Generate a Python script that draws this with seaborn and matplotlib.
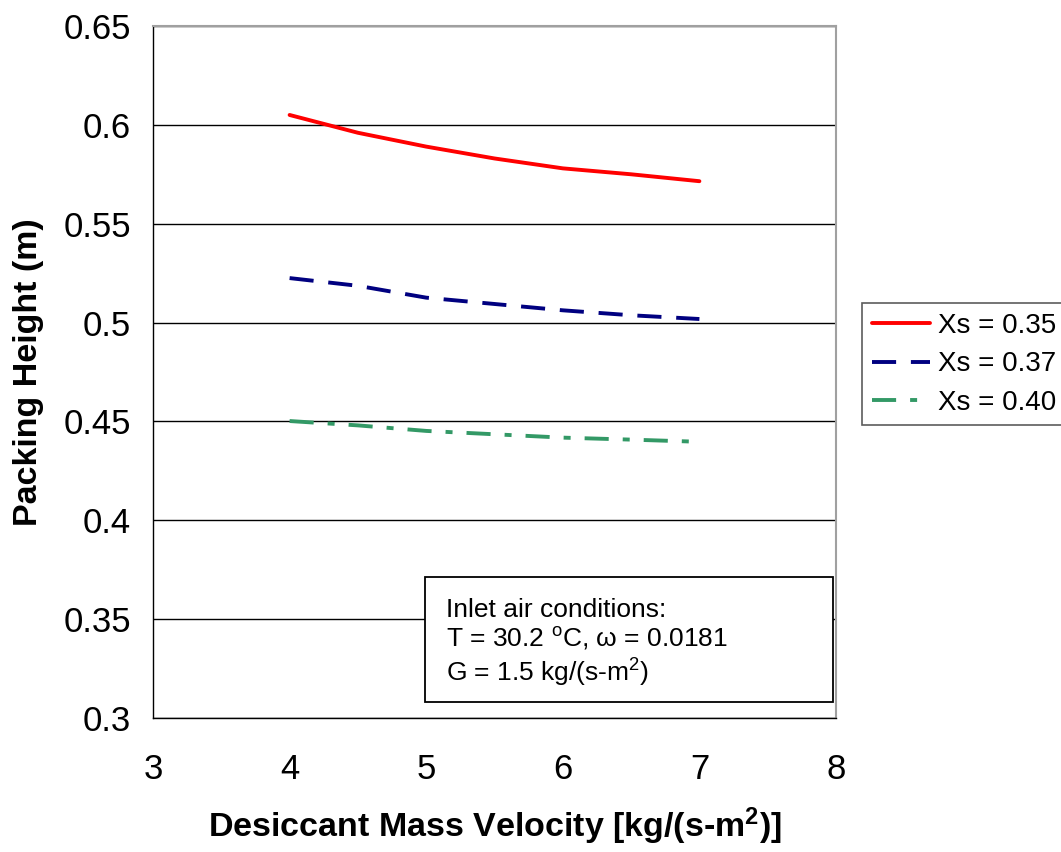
import matplotlib
matplotlib.use("Agg")
import matplotlib.pyplot as plt
import seaborn as sns
import pandas as pd
from matplotlib.patches import Rectangle

# ---- data ----
velocity = [4.0, 4.5, 5.0, 5.5, 6.0, 6.5, 7.0]
xs_035 = [0.605, 0.596, 0.589, 0.583, 0.578, 0.575, 0.5715]
xs_037 = [0.5225, 0.5186, 0.5126, 0.5094, 0.5062, 0.5037, 0.5018]
xs_040 = [0.4502, 0.4480, 0.4452, 0.4435, 0.4418, 0.4408, 0.4397]
series_labels = ["Xs = 0.35", "Xs = 0.37", "Xs = 0.40"]
x_ticks = [3, 4, 5, 6, 7, 8]
y_ticks = [0.3, 0.35, 0.4, 0.45, 0.5, 0.55, 0.6, 0.65]
y_tick_labels = ["0.3", "0.35", "0.4", "0.45", "0.5", "0.55", "0.6", "0.65"]

sns.set_style("white")
plt.rcParams["font.family"] = ["Liberation Sans", "DejaVu Sans"]
plt.rcParams["mathtext.fontset"] = "custom"
plt.rcParams["mathtext.rm"] = "Liberation Sans"
plt.rcParams["mathtext.it"] = "Liberation Sans:italic"
plt.rcParams["mathtext.bf"] = "Liberation Sans:bold"
plt.rcParams["text.color"] = "black"
plt.rcParams["axes.labelcolor"] = "black"
plt.rcParams["xtick.color"] = "black"
plt.rcParams["ytick.color"] = "black"

df = pd.DataFrame({
    "v": velocity * 3,
    "h": xs_035 + xs_037 + xs_040,
    "s": [series_labels[0]] * 7 + [series_labels[1]] * 7 + [series_labels[2]] * 7,
})

fig = plt.figure(figsize=(10.61, 8.52), dpi=100)
ax = fig.add_axes([153 / 1061, 1 - 718 / 852, 683 / 1061, 692 / 852])

palette = {series_labels[0]: "#FF0000", series_labels[1]: "#000080", series_labels[2]: "#339966"}
dashes = {series_labels[0]: "", series_labels[1]: (6.2, 3.8), series_labels[2]: (6.2, 3.6, 1.8, 3.6)}
sns.lineplot(data=df, x="v", y="h", hue="s", style="s", palette=palette, dashes=dashes,
             linewidth=2.8, ax=ax, legend=False, sort=False)

ax.set_xlim(3, 8)
ax.set_ylim(0.3, 0.65)
ax.set_xticks(x_ticks)
ax.set_xticklabels([str(t) for t in x_ticks])
ax.set_yticks(y_ticks)
ax.set_yticklabels(y_tick_labels)
ax.tick_params(axis="both", which="major", direction="out", length=7, width=1,
               colors="black", labelsize=25, pad=9)
ax.tick_params(axis="x", pad=18)
ax.yaxis.grid(True, color="black", linewidth=1)
ax.xaxis.grid(False)
for side in ["left", "bottom"]:
    ax.spines[side].set_color("black")
    ax.spines[side].set_linewidth(1)
for side in ["top", "right"]:
    ax.spines[side].set_color("#A0A0A0")
    ax.spines[side].set_linewidth(1.5)

ax.set_xlabel(r"Desiccant Mass Velocity [kg/(s-m$^\mathbf{2}$)]", fontsize=24.5,
              fontweight="bold", labelpad=14, color="black")
ax.set_ylabel("Packing Height (m)", fontsize=24.5, fontweight="bold", labelpad=14,
              color="black")

# legend
handles = ax.get_lines()[:3]
leg = fig.legend(handles, series_labels, loc="upper left",
                 bbox_to_anchor=(862 / 1061, 1 - 303 / 852), borderaxespad=0,
                 fontsize=20, frameon=True, fancybox=False, handlelength=2.1,
                 handletextpad=0.3, labelspacing=0.45, borderpad=0.35)
leg.get_frame().set_edgecolor("#333333")
leg.get_frame().set_linewidth(1.2)
for t in leg.get_texts():
    t.set_color("black")

# annotation box
ax.add_patch(Rectangle((0.398, 0.0231), 0.597, 0.1806, transform=ax.transAxes,
                       facecolor="white", edgecolor="black", linewidth=1.3, zorder=5))
ax.text(0.429, 0.174,
        "Inlet air conditions:\nT = 30.2 $^\\mathrm{o}$C, ω = 0.0181\nG = 1.5 kg/(s-m$^\\mathrm{2}$)",
        transform=ax.transAxes, fontsize=19, va="top", ha="left", linespacing=1.18,
        zorder=6, color="black")

fig.savefig("out.png", dpi=100)
